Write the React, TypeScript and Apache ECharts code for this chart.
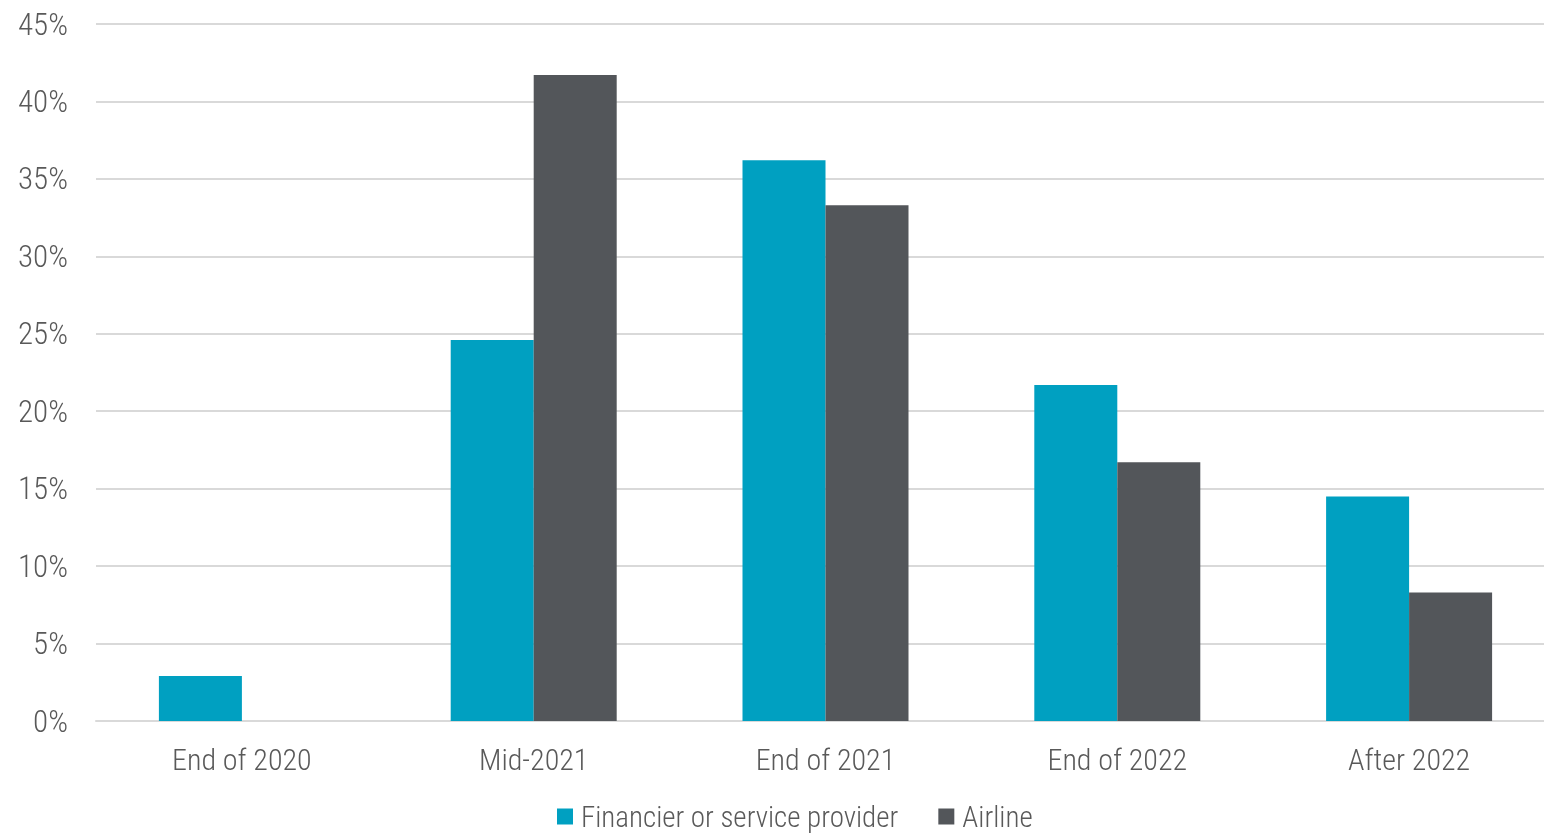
import React, { useEffect, useRef } from "react";
import * as echarts from "echarts";

const categories = ["End of 2020", "Mid-2021", "End of 2021", "End of 2022", "After 2022"];
const financier = [2.9, 24.6, 36.2, 21.7, 14.5];
const airline = [0, 41.7, 33.3, 16.7, 8.3];
const seriesNames = ["Financier or service provider", "Airline"];

const FONT = "'Roboto Condensed', 'DejaVu Sans Condensed', 'Liberation Sans Narrow', sans-serif";
const TEXT = "#595959";

export default function App() {
  const ref = useRef<HTMLDivElement>(null);
  useEffect(() => {
    const chart = echarts.init(ref.current!, null, { renderer: "svg" });
    chart.setOption({
      animation: false,
      textStyle: { fontFamily: FONT },
      grid: { left: 96, right: 5, top: 24, bottom: 114, containLabel: false },
      legend: {
        top: 797,
        left: 552,
        itemWidth: 16,
        itemHeight: 16,
        itemGap: 40,
        icon: "rect",
        textStyle: { fontFamily: FONT, fontSize: 29, fontWeight: 300, color: TEXT, padding: [0, 0, 0, 3] },
        data: seriesNames,
      },
      xAxis: {
        type: "category",
        data: categories,
        axisTick: { show: false },
        axisLine: { lineStyle: { color: "#d9d9d9", width: 2 } },
        axisLabel: { fontFamily: FONT, fontSize: 30, fontWeight: 300, color: TEXT, margin: 23 },
      },
      yAxis: {
        type: "value",
        min: 0,
        max: 45,
        interval: 5,
        axisLine: { show: false },
        axisTick: { show: false },
        splitLine: { lineStyle: { color: "#d9d9d9", width: 2 } },
        axisLabel: { fontFamily: FONT, fontSize: 31, fontWeight: 300, color: TEXT, margin: 28, formatter: "{value}%" },
      },
      series: [
        {
          name: seriesNames[0],
          type: "bar",
          data: financier,
          barWidth: 83,
          barGap: "0%",
          itemStyle: { color: "#00A0C1" },
        },
        {
          name: seriesNames[1],
          type: "bar",
          data: airline,
          barWidth: 83,
          barGap: "0%",
          itemStyle: { color: "#53565A" },
        },
      ],
    });
    return () => chart.dispose();
  }, []);
  return (
    <div style={{ position: "fixed", left: 0, top: 0, width: 1544, height: 835, overflow: "hidden" }}>
      <div ref={ref} style={{ width: 1560, height: 835 }} />
    </div>
  );
}
